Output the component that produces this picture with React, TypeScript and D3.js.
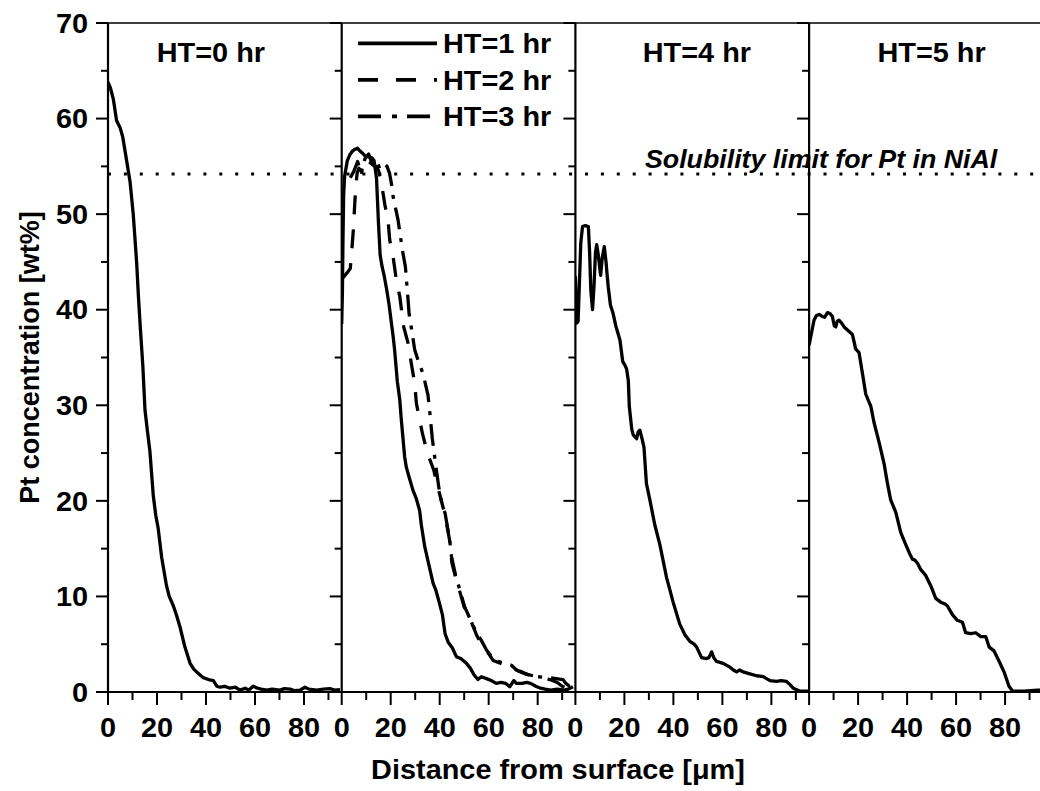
import * as d3 from 'd3';

type Pt = [number, number];

// depth profiles: [distance um, Pt wt%]
const ht0: Pt[] = [
  [0, 63.8], [1, 63.2], [2.2, 62.0], [3.5, 59.8], [5, 59.0], [6, 58.1], [7.6, 55.6], [9, 53.4],
  [10.3, 50.0], [11, 47.5], [11.7, 44.9], [12.4, 41.5], [13.1, 38.5], [14.2, 34.2], [15.1, 29.5],
  [16, 27.5], [17.1, 25.2], [18.5, 20.5], [19.5, 18.5], [20.5, 17.1], [21.9, 14.1], [23.9, 11.1],
  [25, 10], [26.7, 9.0], [28, 8], [29.4, 6.8], [31.4, 4.7], [33.5, 3.0], [35, 2.4], [36.2, 2.1],
  [38.9, 1.5], [41, 1.3], [43, 1.2], [44.5, 0.6], [45.7, 0.5], [47.5, 0.6], [49.8, 0.4], [52, 0.5],
  [53.9, 0.2], [56, 0.4], [57.5, 0.2], [59.3, 0.6], [61, 0.4], [62.5, 0.3], [64.8, 0.2], [67, 0.3],
  [70.2, 0.2], [72, 0.35], [74.3, 0.3], [76, 0.15], [78.4, 0.2], [80.4, 0.5], [82, 0.3], [85.2, 0.2],
  [88, 0.3], [90.6, 0.35], [92.5, 0.2], [94.7, 0.25],
];

const ht1: Pt[] = [
  [0, 38.5], [0.3, 42], [0.5, 47], [0.8, 52], [1.2, 54], [2.3, 55.6], [3.3, 56.2], [4.4, 56.6],
  [5.5, 56.8], [6.4, 56.9], [7.5, 56.6], [8.4, 56.4], [9.5, 56.1], [11.2, 56.0], [12.3, 55.9],
  [13.2, 55.6], [14.2, 53.8], [14.6, 51.5], [15.0, 49.1], [15.7, 45.7], [16.5, 44.5], [17.3, 43.6],
  [18.3, 42.2], [19.3, 40.6], [21.0, 37.2], [21.6, 35.8], [22.7, 32.5], [23.7, 30.6], [24.3, 28.6],
  [25.7, 24.6], [26.4, 23.5], [27.5, 22.5], [29.1, 21.1], [30.5, 20.2], [31.8, 19.0], [32.5, 17.5],
  [33.9, 15.2], [35.5, 13.4], [37.3, 11.4], [38.5, 10.6], [40, 9.2], [41.1, 8.1], [42.2, 6.1],
  [43.5, 5.2], [45.2, 4.6], [46.8, 3.7], [48.6, 3.5], [50.9, 3.0], [52.5, 2.5], [54, 1.8],
  [55.6, 1.3], [57, 1.6], [59.1, 1.4], [61, 1.2], [63.1, 0.9], [65, 1.0], [67, 0.9], [68.6, 0.55],
  [70.3, 1.2], [71.3, 0.9], [73.7, 0.9], [75.5, 1.0], [77.1, 0.9], [79.2, 0.6], [81.2, 0.4],
  [83, 0.3], [85.3, 0.2], [88, 0.3], [90.8, 0.2], [92.5, 0.3], [94.4, 0.55],
];

const ht2: Pt[] = [
  [0, 43.2], [2, 43.8], [3.5, 44.3], [4.2, 46.5], [4.8, 48.5], [5.3, 51], [5.8, 53], [6.3, 54.3],
  [7, 54.8], [8, 54.5], [9, 55.2], [10, 54.9], [11, 55.5], [12, 55.3], [13, 55.1], [14, 55.0],
  [15, 54.6], [16, 53.5], [17, 52], [17.6, 51], [18.9, 49.4], [19.6, 47.3], [21, 45.5], [22.3, 43.1],
  [23.7, 41.4], [25.3, 38.2], [27.1, 36.5], [28.4, 34.4], [29.8, 32.3], [30.5, 30.2], [31.8, 28.5],
  [33, 27], [35, 25], [37.6, 23.2], [39.6, 21.1], [41, 19.7], [42.2, 18.5], [44.1, 15.8], [45, 13.5],
  [46.5, 12], [48.2, 10.5], [50, 8.9], [52.2, 7.8], [55, 6.0], [57, 5.0], [59, 4.4], [61.8, 3.3],
  [65, 3.0], [69, 2.7], [72, 2.2], [75, 1.9], [78, 1.7], [81, 1.5], [85, 1.3], [88, 1.0], [90, 0.6],
  [92, 0.4], [94, 0.5], [95.3, 0.3],
];

const ht3: Pt[] = [
  [3.5, 53.8], [5, 54.5], [6.5, 55.5], [8, 54.2], [9.5, 55.8], [11, 56.3], [12.5, 55.2], [14, 55.7],
  [15.5, 54.8], [17, 55.3], [18.5, 55.0], [19.5, 54.3], [20.3, 53.2], [21, 51.8], [23, 49.4],
  [24.8, 46.2], [26, 44.5], [27.1, 41.0], [27.5, 39.6], [28.5, 38], [29.8, 35.8], [31.2, 34.7],
  [33.2, 33.3], [35.2, 31.1], [35.8, 29.7], [37, 26.5], [38.5, 23.5], [39.6, 21.5], [40.9, 19.7],
  [42.2, 18.7], [44.1, 15.9], [44.8, 14.2], [46.5, 12.2], [48.2, 10.7], [50.2, 8.9], [52.5, 7.6],
  [55, 6.2], [57, 5.4], [59.1, 4.4], [61.8, 3.5], [65, 3.1], [69.3, 2.8], [71.3, 2.3], [73.6, 2.1],
  [77.1, 1.7], [80, 1.6], [85, 1.5], [90.3, 1.3], [91.5, 0.9], [93, 0.6], [95, 0.5],
];

const ht4: Pt[] = [
  [0, 43.5], [0.3, 41], [0.6, 38.6], [1.1, 38.8], [1.6, 42.5], [2.2, 47], [2.9, 48.7], [4, 48.8],
  [5.3, 48.7], [5.8, 46], [6.3, 42], [7.0, 40.0], [7.6, 42.5], [8.2, 46], [8.7, 46.8], [9.3, 45.8],
  [10.3, 43.6], [11, 45.5], [11.8, 46.6], [12.5, 45], [13.0, 43.5], [13.4, 42.4], [14.3, 40.5],
  [15.4, 39.6], [16.5, 38.3], [18.2, 36.8], [19.3, 34.6], [20.2, 34.2], [20.9, 33.8], [21.6, 32.6],
  [22.0, 29.9], [23.0, 27.5], [23.6, 26.9], [25.0, 26.5], [25.6, 27.2], [26.3, 27.4], [27.2, 26.5],
  [28.0, 25.6], [29.0, 21.8], [30.4, 20.1], [32.4, 17.5], [34.5, 15.4], [37.2, 12.0], [39.9, 9.4],
  [42.6, 7.1], [44.7, 6.0], [46.7, 5.3], [48.5, 5.0], [49.5, 4.7], [51.5, 3.6], [53.5, 3.5],
  [54.5, 3.6], [55.6, 4.2], [56.5, 3.6], [57.6, 3.2], [60.3, 3.0], [63.1, 2.6], [64.5, 2.3],
  [65.8, 2.1], [67, 2.3], [68.5, 2.1], [71.2, 1.9], [74.0, 1.7], [76.7, 1.6], [78, 1.4], [79.4, 1.2],
  [82.1, 1.1], [84, 1.2], [86.2, 1.1], [87.5, 0.8], [88.9, 0.4], [91.6, 0.1], [95, 0.1],
];

const ht5: Pt[] = [
  [0, 36.3], [0.7, 37.2], [2.0, 38.9], [3, 39.4], [4.1, 39.5], [5.4, 39.3], [6.3, 39.2], [7.5, 39.7],
  [8.5, 39.6], [9.5, 39.3], [10.3, 38.3], [10.9, 38.2], [11.5, 38.8], [12.2, 38.9], [13.3, 38.6],
  [14.3, 38.2], [16, 37.8], [17.7, 37.4], [19.0, 35.9], [20.4, 35.5], [21.8, 33.3], [23.1, 31.2],
  [24.2, 30.5], [25.2, 29.9], [26.5, 28.2], [28.6, 26.1], [30.6, 23.9], [32.0, 21.8], [33.3, 20.1],
  [35.4, 18.8], [37.4, 16.7], [39.5, 15.4], [41, 14.5], [42.2, 13.9], [43.2, 13.8], [44.2, 13.5],
  [45.6, 12.8], [47.6, 12.2], [49.7, 11.1], [51.7, 9.8], [53.7, 9.4], [55.5, 9.2], [56.5, 9.0],
  [58.5, 8.1], [60.5, 7.5], [62.6, 7.3], [63.9, 6.2], [66.0, 6.1], [68.0, 6.2], [70.1, 5.8],
  [72.1, 5.8], [73.5, 4.7], [75.5, 4.3], [77.6, 3.2], [79.6, 2.1], [81.6, 0.6], [83.0, 0.1],
  [87.8, 0.1], [93.2, 0.2], [95.4, 0.2],
];

const panelTitles = ['HT=0 hr', '', 'HT=4 hr', 'HT=5 hr'];
const panelTitleX = [42, 0, 49.6, 50];
const legendLabels = ['HT=1 hr', 'HT=2 hr', 'HT=3 hr'];
const yMajor = [0, 10, 20, 30, 40, 50, 60, 70];
const yMinor = [5, 15, 25, 35, 45, 55, 65];
const xMajor = [0, 20, 40, 60, 80];
const xMinor = [10, 30, 50, 70, 90];
const solubility = 54.2;

const W = 1040;
const H = 791;
const left = 108;
const top = 23;
const bottom = 692;
const panelW = 233.7;
const xMax = 95.4;
const font = "'Liberation Sans', Arial, Helvetica, sans-serif";
const stretch = 1.05;

const y = d3.scaleLinear().domain([0, 70]).range([bottom, top]);
const xs = [0, 1, 2, 3].map((i) =>
  d3.scaleLinear().domain([0, xMax]).range([left + i * panelW, left + (i + 1) * panelW]),
);

const dashed = '19,15';
const dashDot = '22,9,4,9';

const series = [
  { panel: 0, data: ht0, dash: undefined },
  { panel: 1, data: ht1, dash: undefined },
  { panel: 1, data: ht2, dash: dashed },
  { panel: 1, data: ht3, dash: dashDot },
  { panel: 2, data: ht4, dash: undefined },
  { panel: 3, data: ht5, dash: undefined },
];

function Txt(props: {
  x: number;
  y: number;
  size: number;
  anchor?: string;
  italic?: boolean;
  rotate?: boolean;
  children: string;
}) {
  const { x, y: ty, size, anchor = 'start', italic, rotate, children } = props;
  const tf = rotate
    ? `translate(${x},${ty}) rotate(-90) scale(1,${stretch})`
    : `translate(${x},${ty}) scale(${stretch},1)`;
  return (
    <text
      transform={tf}
      fontSize={size}
      fontFamily={font}
      fontWeight="bold"
      fontStyle={italic ? 'italic' : 'normal'}
      textAnchor={anchor}
      fill="#000"
    >
      {children}
    </text>
  );
}

export default function App() {
  const line = (sx: d3.ScaleLinear<number, number>) =>
    d3
      .line<Pt>()
      .x((d) => sx(d[0]))
      .y((d) => y(d[1]));

  const xTitleX = 558;

  return (
    <svg
      width={W}
      height={H}
      viewBox={`0 0 ${W} ${H}`}
      style={{ position: 'absolute', left: 0, top: 0, background: '#fff' }}
    >
      <defs>
        {xs.map((sx, i) => (
          <clipPath id={`clip${i}`} key={i}>
            <rect x={sx(0)} y={top} width={panelW} height={bottom - top} />
          </clipPath>
        ))}
      </defs>

      {/* solubility limit */}
      <line
        x1={left}
        x2={W}
        y1={y(solubility)}
        y2={y(solubility)}
        stroke="#000"
        strokeWidth={3}
        strokeDasharray="3,12.9"
      />
      <Txt x={645} y={168} size={25.5} italic>
        Solubility limit for Pt in NiAl
      </Txt>

      {/* curves */}
      {series.map((s, i) => (
        <path
          key={i}
          d={line(xs[s.panel])(s.data) ?? ''}
          fill="none"
          stroke="#000"
          strokeWidth={3.3}
          strokeLinejoin="round"
          strokeDasharray={s.dash}
          clipPath={`url(#clip${s.panel})`}
        />
      ))}

      {/* frame */}
      <line x1={left} x2={W} y1={top} y2={top} stroke="#000" strokeWidth={1.4} />
      <line x1={left} x2={W} y1={bottom} y2={bottom} stroke="#000" strokeWidth={2.2} />
      {xs.map((sx, i) => (
        <g key={i}>
          <line x1={sx(0)} x2={sx(0)} y1={top} y2={bottom + 1} stroke="#000" strokeWidth={2.2} />
          {yMajor.map((v) => (
            <line key={v} x1={sx(0) - 12} x2={sx(0)} y1={y(v)} y2={y(v)} stroke="#000" strokeWidth={2} />
          ))}
          {yMinor.map((v) => (
            <line key={v} x1={sx(0) - 7} x2={sx(0)} y1={y(v)} y2={y(v)} stroke="#000" strokeWidth={2} />
          ))}
          {xMajor.map((v) => (
            <line key={v} x1={sx(v)} x2={sx(v)} y1={bottom} y2={bottom + 13} stroke="#000" strokeWidth={2} />
          ))}
          {xMinor.map((v) => (
            <line key={v} x1={sx(v)} x2={sx(v)} y1={bottom} y2={bottom + 8} stroke="#000" strokeWidth={2} />
          ))}
          {xMajor.map((v) => (
            <Txt key={v} x={sx(v)} y={737} size={27.5} anchor="middle">
              {String(v)}
            </Txt>
          ))}
          {panelTitles[i] ? (
            <Txt x={sx(panelTitleX[i])} y={62} size={27.5} anchor="middle">
              {panelTitles[i]}
            </Txt>
          ) : null}
        </g>
      ))}

      {/* y tick labels */}
      {yMajor.map((v) => (
        <Txt key={v} x={88} y={y(v) + 9.7} size={27.5} anchor="end">
          {String(v)}
        </Txt>
      ))}

      {/* legend */}
      {legendLabels.map((lab, i) => {
        const ly = 43.3 + i * 36.5;
        return (
          <g key={lab}>
            <line
              x1={358}
              x2={437}
              y1={ly}
              y2={ly}
              stroke="#000"
              strokeWidth={3.8}
              strokeDasharray={i === 0 ? undefined : i === 1 ? '20,18' : '23,11,5,10'}
            />
            <Txt x={443} y={ly + 10} size={27.5}>
              {lab}
            </Txt>
          </g>
        );
      })}

      {/* axis titles */}
      <Txt x={xTitleX} y={779} size={27.5} anchor="middle">
        Distance from surface [μm]
      </Txt>
      <Txt x={39} y={(top + bottom) / 2} size={27} anchor="middle" rotate>
        Pt concentration [wt%]
      </Txt>
    </svg>
  );
}
